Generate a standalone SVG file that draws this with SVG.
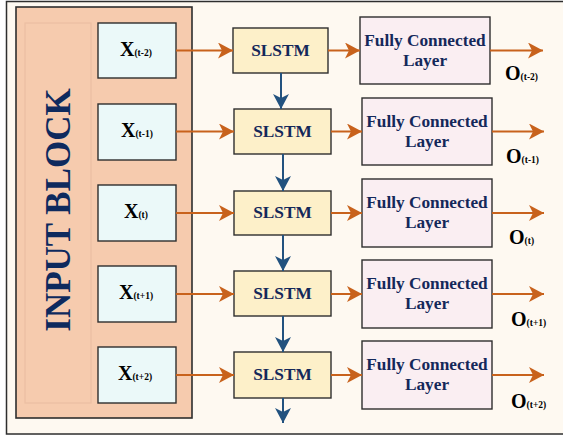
<svg xmlns="http://www.w3.org/2000/svg" width="563" height="436" viewBox="0 0 563 436">
  <defs>
    <marker id="ah-orange" markerUnits="userSpaceOnUse" markerWidth="16" markerHeight="16" refX="15" refY="8" orient="auto">
      <path d="M0,0 L15,8 L0,16 L4,8 Z" fill="#C8621C"/>
    </marker>
    <marker id="ah-blue" markerUnits="userSpaceOnUse" markerWidth="16" markerHeight="16" refX="15" refY="8" orient="auto">
      <path d="M0,0 L15,8 L0,16 L4,8 Z" fill="#22527F"/>
    </marker>
  </defs>
  <style>
    .frame { fill: #FEF9F1; stroke: #2E2E2E; stroke-width: 1.5; }
    .inblock { fill: #F6CBAE; stroke: #2E2E2E; stroke-width: 1.6; }
    .inner { fill: none; stroke: #EBBFA2; stroke-width: 1.2; }
    .xbox { fill: #EBF9F9; stroke: #2E2E2E; stroke-width: 1.4; }
    .lstm { fill: #FDF0C9; stroke: #2E2E2E; stroke-width: 1.4; }
    .fc { fill: #FAEEF2; stroke: #2E2E2E; stroke-width: 1.4; }
    .flow { stroke: #C8621C; stroke-width: 2; fill: none; marker-end: url(#ah-orange); }
    .rec { stroke: #22527F; stroke-width: 2; fill: none; marker-end: url(#ah-blue); }
    .lbl { font-family: "Liberation Serif", "Times New Roman", serif; font-weight: bold; fill: #14285A; text-anchor: middle; font-size: 17.3px; }
    .var { font-family: "Liberation Serif", "Times New Roman", serif; font-weight: bold; fill: #000; }
    .big { font-size: 20px; }
    .sub { font-size: 9.5px; }
    .title { font-family: "Liberation Serif", "Times New Roman", serif; font-weight: bold; fill: #0E2A5E; font-size: 35px; text-anchor: middle; }
  </style>

  <!-- outer frame -->
  <rect class="frame" x="6.5" y="1.5" width="600" height="432.5"/>

  <!-- input block -->
  <g id="input-block">
    <rect class="inblock" x="16" y="7" width="176" height="411"/>
    <rect class="inner" x="25" y="23" width="66" height="380"/>
    <text class="title" transform="translate(70,210) rotate(-90)" x="0" y="0">INPUT BLOCK</text>
  </g>

  <!-- inputs -->
  <g id="x-t-2"><rect class="xbox" x="98" y="23" width="78" height="55"/>
    <text class="var" x="120" y="56"><tspan class="big">X</tspan><tspan class="sub">(t-2)</tspan></text></g>
  <g id="x-t-1"><rect class="xbox" x="98" y="104" width="78" height="56"/>
    <text class="var" x="121" y="137"><tspan class="big">X</tspan><tspan class="sub">(t-1)</tspan></text></g>
  <g id="x-t"><rect class="xbox" x="98" y="185" width="78" height="56"/>
    <text class="var" x="124" y="218"><tspan class="big">X</tspan><tspan class="sub">(t)</tspan></text></g>
  <g id="x-t1"><rect class="xbox" x="98" y="266" width="78" height="56"/>
    <text class="var" x="119" y="299"><tspan class="big">X</tspan><tspan class="sub">(t+1)</tspan></text></g>
  <g id="x-t2"><rect class="xbox" x="98" y="347" width="78" height="56"/>
    <text class="var" x="118" y="380"><tspan class="big">X</tspan><tspan class="sub">(t+2)</tspan></text></g>

  <!-- SLSTM cells -->
  <g id="slstm-1"><rect class="lstm" x="233" y="28" width="95" height="45"/>
    <text class="lbl" x="280.5" y="56">SLSTM</text></g>
  <g id="slstm-2"><rect class="lstm" x="234" y="109" width="97" height="45"/>
    <text class="lbl" x="282.5" y="137">SLSTM</text></g>
  <g id="slstm-3"><rect class="lstm" x="234" y="191" width="97" height="44"/>
    <text class="lbl" x="282.5" y="218">SLSTM</text></g>
  <g id="slstm-4"><rect class="lstm" x="234" y="271" width="97" height="45"/>
    <text class="lbl" x="282.5" y="299">SLSTM</text></g>
  <g id="slstm-5"><rect class="lstm" x="234" y="352" width="97" height="46"/>
    <text class="lbl" x="282.5" y="380">SLSTM</text></g>

  <!-- fully connected layers -->
  <g id="fc-1"><rect class="fc" x="360" y="17" width="130" height="67"/>
    <text class="lbl" x="425" y="46">Fully Connected</text><text class="lbl" x="425" y="66">Layer</text></g>
  <g id="fc-2"><rect class="fc" x="362" y="98" width="130" height="67"/>
    <text class="lbl" x="427" y="127">Fully Connected</text><text class="lbl" x="427" y="147">Layer</text></g>
  <g id="fc-3"><rect class="fc" x="362" y="179" width="130" height="68"/>
    <text class="lbl" x="427" y="208">Fully Connected</text><text class="lbl" x="427" y="228">Layer</text></g>
  <g id="fc-4"><rect class="fc" x="362" y="260" width="130" height="68"/>
    <text class="lbl" x="427" y="289">Fully Connected</text><text class="lbl" x="427" y="309">Layer</text></g>
  <g id="fc-5"><rect class="fc" x="362" y="341" width="130" height="68"/>
    <text class="lbl" x="427" y="370">Fully Connected</text><text class="lbl" x="427" y="390">Layer</text></g>

  <!-- outputs -->
  <g id="o-t-2"><text class="var" x="505" y="80"><tspan class="big">O</tspan><tspan class="sub">(t-2)</tspan></text></g>
  <g id="o-t-1"><text class="var" x="506" y="163"><tspan class="big">O</tspan><tspan class="sub">(t-1)</tspan></text></g>
  <g id="o-t"><text class="var" x="509" y="244"><tspan class="big">O</tspan><tspan class="sub">(t)</tspan></text></g>
  <g id="o-t1"><text class="var" x="511" y="326"><tspan class="big">O</tspan><tspan class="sub">(t+1)</tspan></text></g>
  <g id="o-t2"><text class="var" x="511" y="408"><tspan class="big">O</tspan><tspan class="sub">(t+2)</tspan></text></g>

  <!-- connectors -->
  <g id="connectors">
    <line class="flow" x1="176" y1="50.5" x2="233" y2="50.5"/>
    <line class="flow" x1="176" y1="131.5" x2="234" y2="131.5"/>
    <line class="flow" x1="176" y1="213" x2="234" y2="213"/>
    <line class="flow" x1="176" y1="294" x2="234" y2="294"/>
    <line class="flow" x1="176" y1="375" x2="234" y2="375"/>

    <line class="flow" x1="328" y1="50.5" x2="360" y2="50.5"/>
    <line class="flow" x1="331" y1="131.5" x2="362" y2="131.5"/>
    <line class="flow" x1="331" y1="213" x2="362" y2="213"/>
    <line class="flow" x1="331" y1="294" x2="362" y2="294"/>
    <line class="flow" x1="331" y1="375" x2="362" y2="375"/>

    <line class="flow" x1="490" y1="50.5" x2="543" y2="50.5"/>
    <line class="flow" x1="492" y1="131.5" x2="544" y2="131.5"/>
    <line class="flow" x1="492" y1="213" x2="544" y2="213"/>
    <line class="flow" x1="492" y1="294" x2="544" y2="294"/>
    <line class="flow" x1="492" y1="375" x2="544" y2="375"/>

    <line class="rec" x1="281" y1="73" x2="281" y2="109"/>
    <line class="rec" x1="283" y1="154" x2="283" y2="191"/>
    <line class="rec" x1="283" y1="235" x2="283" y2="271"/>
    <line class="rec" x1="283" y1="316" x2="283" y2="352"/>
    <line class="rec" x1="283" y1="398" x2="283" y2="423"/>
  </g>
</svg>
